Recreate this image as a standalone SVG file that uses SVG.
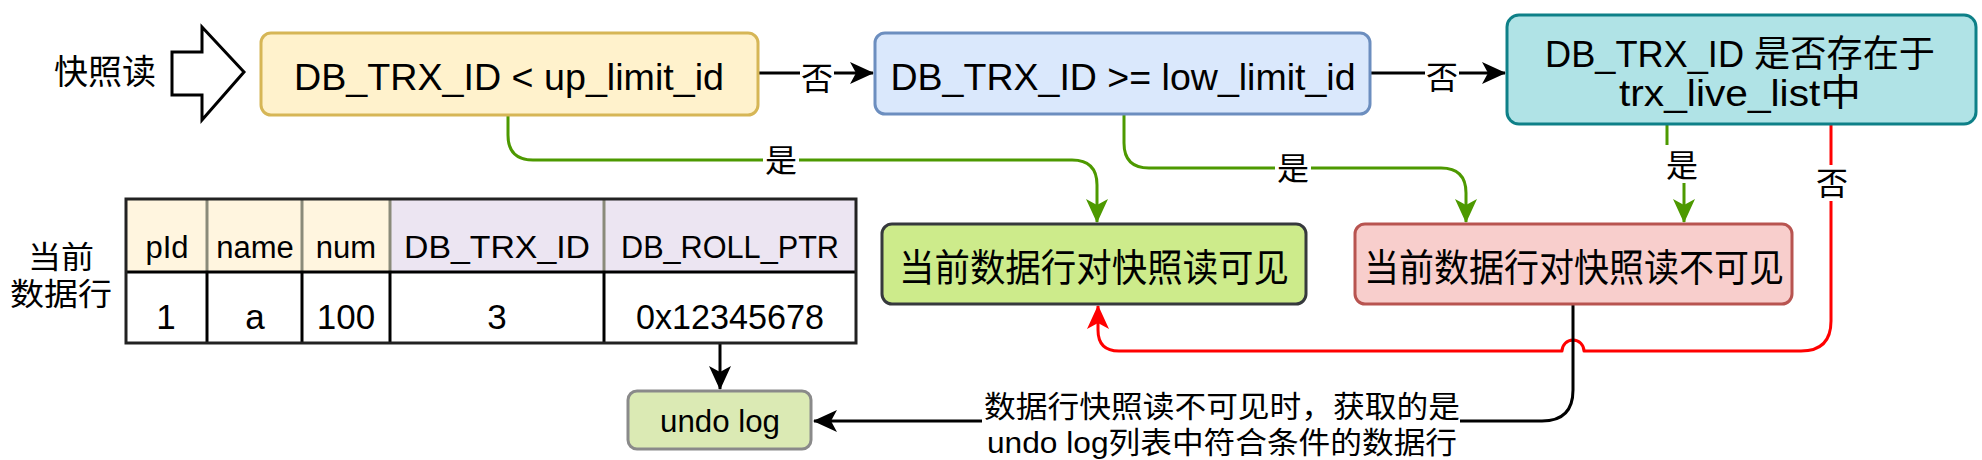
<svg xmlns="http://www.w3.org/2000/svg" width="1982" height="460" viewBox="0 0 1982 460">
<style>
.t{font-family:"Liberation Sans","Noto Sans CJK SC",sans-serif;fill:#000;text-anchor:middle}
.c{font-family:"Noto Sans CJK SC","Liberation Sans",sans-serif;fill:#000;text-anchor:middle}
.ln{fill:none;stroke-width:3;stroke-linejoin:round}
.g{stroke:#4d9900}
.k{stroke:#000}
.r{stroke:#ff0000}
.bg{fill:#fff;stroke:none}
</style>
<defs>
<marker id="ag" markerUnits="userSpaceOnUse" markerWidth="24" markerHeight="22" viewBox="0 0 24 22" refX="23" refY="11" orient="auto"><path d="M0,0 L24,11 L0,22 L6,11 Z" fill="#4d9900"/></marker>
<marker id="ak" markerUnits="userSpaceOnUse" markerWidth="24" markerHeight="22" viewBox="0 0 24 22" refX="23" refY="11" orient="auto"><path d="M0,0 L24,11 L0,22 L6,11 Z" fill="#000"/></marker>
<marker id="ar" markerUnits="userSpaceOnUse" markerWidth="24" markerHeight="22" viewBox="0 0 24 22" refX="23" refY="11" orient="auto"><path d="M0,0 L24,11 L0,22 L6,11 Z" fill="#ff0000"/></marker>
</defs>
<rect width="1982" height="460" fill="#fff"/>

<g id="connectors">
<path class="ln k" d="M758,73 L873,73" marker-end="url(#ak)"/>
<path class="ln k" d="M1371,73 L1505,73" marker-end="url(#ak)"/>
<path class="ln g" d="M508,115 L508,135 Q508,160 533,160 L1072,160 Q1097,160 1097,185 L1097,222" marker-end="url(#ag)"/>
<path class="ln g" d="M1124,114 L1124,143 Q1124,168 1149,168 L1441,168 Q1466,168 1466,193 L1466,222" marker-end="url(#ag)"/>
<path class="ln g" d="M1667,124 L1667,150 L1684,175 L1684,222" marker-end="url(#ag)"/>
<path class="ln r" d="M1831,124 L1831,321 Q1831,351 1801,351 L1584,351 A11,11 0 0 0 1562,351 L1119,351 Q1098,351 1098,330 L1098,306" marker-end="url(#ar)"/>
<path class="ln k" d="M1573,304 L1573,390 Q1573,421 1542,421 L814,421" marker-end="url(#ak)"/>
<path class="ln k" d="M720,343 L720,389" marker-end="url(#ak)"/>
<rect class="bg" x="800" y="60" width="34" height="36"/>
<text class="c" x="817" y="90" font-size="32">否</text>
<rect class="bg" x="1425" y="60" width="34" height="36"/>
<text class="c" x="1442" y="89" font-size="32">否</text>
<rect class="bg" x="763" y="143" width="36" height="34"/>
<text class="c" x="781" y="172" font-size="32">是</text>
<rect class="bg" x="1275" y="151" width="36" height="34"/>
<text class="c" x="1293" y="180" font-size="32">是</text>
<rect class="bg" x="1660" y="145" width="44" height="38"/>
<text class="c" x="1682" y="177" font-size="32">是</text>
<rect class="bg" x="1814" y="165" width="36" height="36"/>
<text class="c" x="1832" y="195" font-size="32">否</text>
<rect class="bg" x="982" y="393" width="478" height="67"/>
<text class="t" x="1222" y="417" font-size="30" textLength="476" lengthAdjust="spacingAndGlyphs">数据行快照读不可见时，获取的是</text>
<text class="t" x="1222" y="453" font-size="30" textLength="470" lengthAdjust="spacingAndGlyphs">undo log列表中符合条件的数据行</text>
</g>

<g id="snapshot-read">
<text class="c" x="105" y="84" font-size="34">快照读</text>
<polygon points="172,52 202,52 202,27 244,72 202,120 202,95 172,95" fill="#fff" stroke="#000" stroke-width="3" stroke-linejoin="miter"/>
</g>

<g id="cond-up-limit">
<rect x="261" y="33" width="497" height="82" rx="10" fill="#fff2cc" stroke="#d6b656" stroke-width="3"/>
<text class="t" x="509" y="90" font-size="37" textLength="430" lengthAdjust="spacingAndGlyphs">DB_TRX_ID &lt; up_limit_id</text>
</g>

<g id="cond-low-limit">
<rect x="875" y="33" width="495" height="81" rx="10" fill="#dae8fc" stroke="#6c8ebf" stroke-width="3"/>
<text class="t" x="1123" y="90" font-size="37" textLength="465" lengthAdjust="spacingAndGlyphs">DB_TRX_ID &gt;= low_limit_id</text>
</g>

<g id="cond-live-list">
<rect x="1507" y="15" width="469" height="109" rx="12" fill="#b0e3e6" stroke="#0e8088" stroke-width="3"/>
<text class="t" x="1740" y="67" font-size="37" textLength="390" lengthAdjust="spacingAndGlyphs">DB_TRX_ID 是否存在于</text>
<text class="t" x="1740" y="106" font-size="37" textLength="242" lengthAdjust="spacingAndGlyphs">trx_live_list中</text>
</g>

<g id="visible">
<rect x="882" y="224" width="424" height="80" rx="10" fill="#cdeb8b" stroke="#36393d" stroke-width="3"/>
<text class="c" x="1094" y="281" font-size="38" textLength="390" lengthAdjust="spacingAndGlyphs">当前数据行对快照读可见</text>
</g>

<g id="invisible">
<rect x="1355" y="224" width="437" height="80" rx="10" fill="#f8cecc" stroke="#b85450" stroke-width="3"/>
<text class="c" x="1574" y="281" font-size="38" textLength="420" lengthAdjust="spacingAndGlyphs">当前数据行对快照读不可见</text>
</g>

<g id="current-row">
<text class="t" x="61" y="268" font-size="31" textLength="66" lengthAdjust="spacingAndGlyphs">当前</text>
<text class="t" x="61" y="305" font-size="31" textLength="102" lengthAdjust="spacingAndGlyphs">数据行</text>
<rect x="126" y="199" width="264" height="72" fill="#fff5df"/>
<rect x="390" y="199" width="466" height="72" fill="#ece5f2"/>
<g stroke="#8a8a7a" stroke-width="3">
<line x1="207" y1="199" x2="207" y2="271"/>
<line x1="302" y1="199" x2="302" y2="271"/>
<line x1="390" y1="199" x2="390" y2="271"/>
<line x1="604" y1="199" x2="604" y2="271"/>
</g>
<g stroke="#000" stroke-width="3">
<line x1="126" y1="272" x2="856" y2="272"/>
<line x1="207" y1="272" x2="207" y2="343"/>
<line x1="302" y1="272" x2="302" y2="343"/>
<line x1="390" y1="272" x2="390" y2="343"/>
<line x1="604" y1="272" x2="604" y2="343"/>
</g>
<rect x="126" y="199" width="730" height="144" fill="none" stroke="#222" stroke-width="3"/>
<text class="t" x="167" y="258" font-size="31">pId</text>
<text class="t" x="255" y="258" font-size="31">name</text>
<text class="t" x="346" y="258" font-size="31">num</text>
<text class="t" x="497" y="258" font-size="31" textLength="186" lengthAdjust="spacingAndGlyphs">DB_TRX_ID</text>
<text class="t" x="730" y="258" font-size="31" textLength="218" lengthAdjust="spacingAndGlyphs">DB_ROLL_PTR</text>
<text class="t" x="166" y="329" font-size="35">1</text>
<text class="t" x="255" y="329" font-size="35">a</text>
<text class="t" x="346" y="329" font-size="35">100</text>
<text class="t" x="497" y="329" font-size="35">3</text>
<text class="t" x="730" y="329" font-size="35" textLength="188" lengthAdjust="spacingAndGlyphs">0x12345678</text>
</g>

<g id="undo-log">
<rect x="628" y="391" width="183" height="58" rx="9" fill="#dbeab4" stroke="#8a8a8a" stroke-width="3"/>
<text class="t" x="720" y="432" font-size="32" textLength="120" lengthAdjust="spacingAndGlyphs">undo log</text>
</g>
</svg>
